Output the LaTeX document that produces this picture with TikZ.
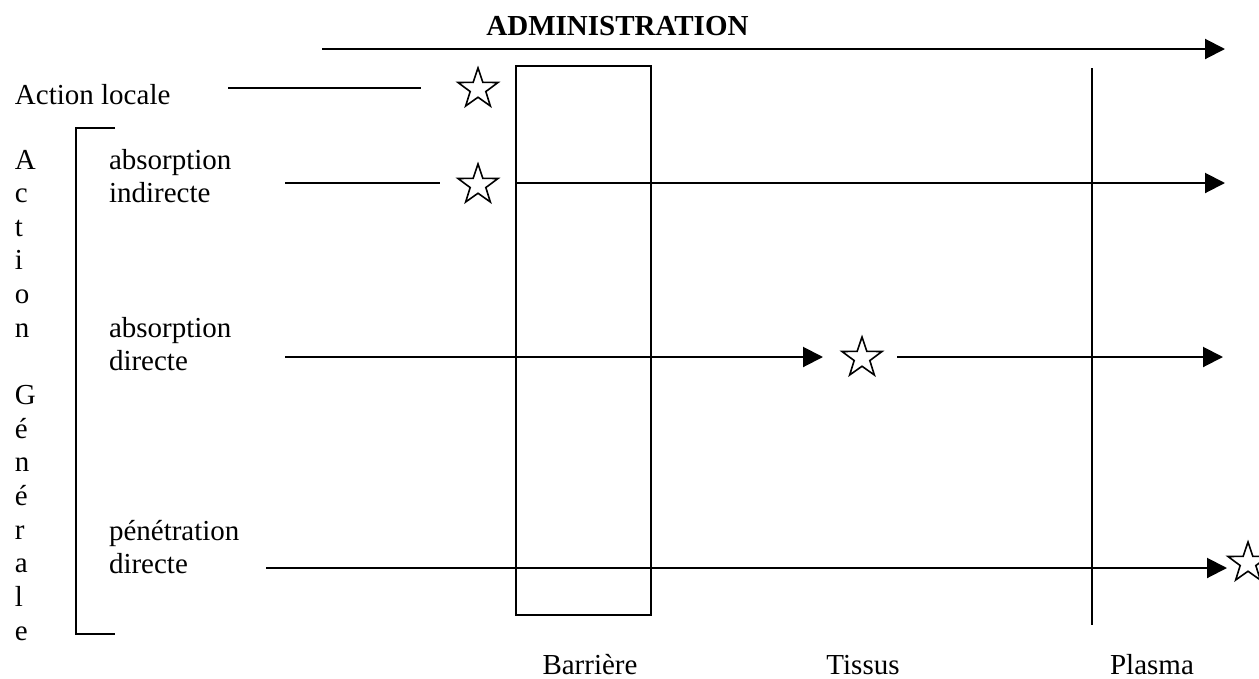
\documentclass[tikz,border=0pt]{standalone}
\usepackage{fontspec}
\setmainfont{Liberation Serif}
\usetikzlibrary{arrows.meta,shapes.geometric}
\begin{document}
\begin{tikzpicture}[x=1pt,y=-1pt,
  line width=2pt,
  txt/.style={inner sep=0pt, font=\fontsize{29}{33.6}\selectfont},
  etoile/.style={star, star points=5, star point ratio=2.55, draw, line width=1.6pt, inner sep=0pt, minimum size=42pt},
  fleche/.style={-{Triangle[length=20pt,width=20pt]}}]
\clip (0,0) rectangle (1259,678);
% title and top arrow
\node[txt, font=\fontsize{29}{33.6}\selectfont\bfseries, anchor=base] (adm) at (617.5,35) {ADMINISTRATION};
\coordinate (adm0) at (322,49);
\coordinate (adm1) at (1225,49);
\draw[fleche] (adm0) -- (adm1);
% barrier box and plasma line
\node[draw, inner sep=0pt, outer sep=0pt, minimum width=135pt, minimum height=549pt] (barr) at (583.5,340.5) {};
\coordinate (pl0) at (1092,68);
\coordinate (pl1) at (1092,625);
\draw (pl0) -- (pl1);
% action locale
\node[txt, anchor=base west] (al) at (14,104) {Action locale};
\coordinate (al0) at (228,88);
\coordinate (al1) at (421,88);
\draw (al0) -- (al1);
\node[etoile] (s1) at (478,89) {};
% bracket
\coordinate (br1) at (115,128);
\coordinate (br2) at (76,128);
\coordinate (br3) at (76,634);
\coordinate (br4) at (115,634);
\draw (br1) -- (br2) -- (br3) -- (br4);
% vertical text
\foreach \l/\y [count=\i] in {A/169, c/202.6, t/236.3, i/269.9, o/303.6, n/337.2, G/404.5, é/438.1, n/471.8, é/505.4, r/539.0, a/572.7, l/606.3, e/640}
  \node[txt, anchor=base west] (v\i) at (14,\y) {\l};
% absorption indirecte
\node[txt, anchor=base west] (ai1) at (108,169) {absorption};
\node[txt, anchor=base west] (ai2) at (108,202) {indirecte};
\coordinate (ai0) at (285,183);
\coordinate (aie) at (440,183);
\draw (ai0) -- (aie);
\node[etoile] (s2) at (478,185) {};
\coordinate (aib) at (barr.west |- ai0);
\coordinate (aif) at (1225,183);
\draw[fleche] (aib) -- (aif);
% absorption directe
\node[txt, anchor=base west] (ad1) at (108,337) {absorption};
\node[txt, anchor=base west] (ad2) at (108,370) {directe};
\coordinate (ad0) at (285,357);
\coordinate (ade) at (823,357);
\draw[fleche] (ad0) -- (ade);
\node[etoile] (s3) at (862,358) {};
\coordinate (ad3) at (897,357);
\coordinate (adf) at (1223,357);
\draw[fleche] (ad3) -- (adf);
% penetration directe
\node[txt, anchor=base west] (pd1) at (108,540) {pénétration};
\node[txt, anchor=base west] (pd2) at (108,573) {directe};
\coordinate (pd0) at (266,568);
\coordinate (pdf) at (1227,568);
\draw[fleche] (pd0) -- (pdf);
\node[etoile] (s4) at (1248,563) {};
% bottom labels
\node[txt, anchor=base] (lb) at (590,674) {Barrière};
\node[txt, anchor=base] (lt) at (863,674) {Tissus};
\node[txt, anchor=base] (lp) at (1152,674) {Plasma};
\end{tikzpicture}
\end{document}
